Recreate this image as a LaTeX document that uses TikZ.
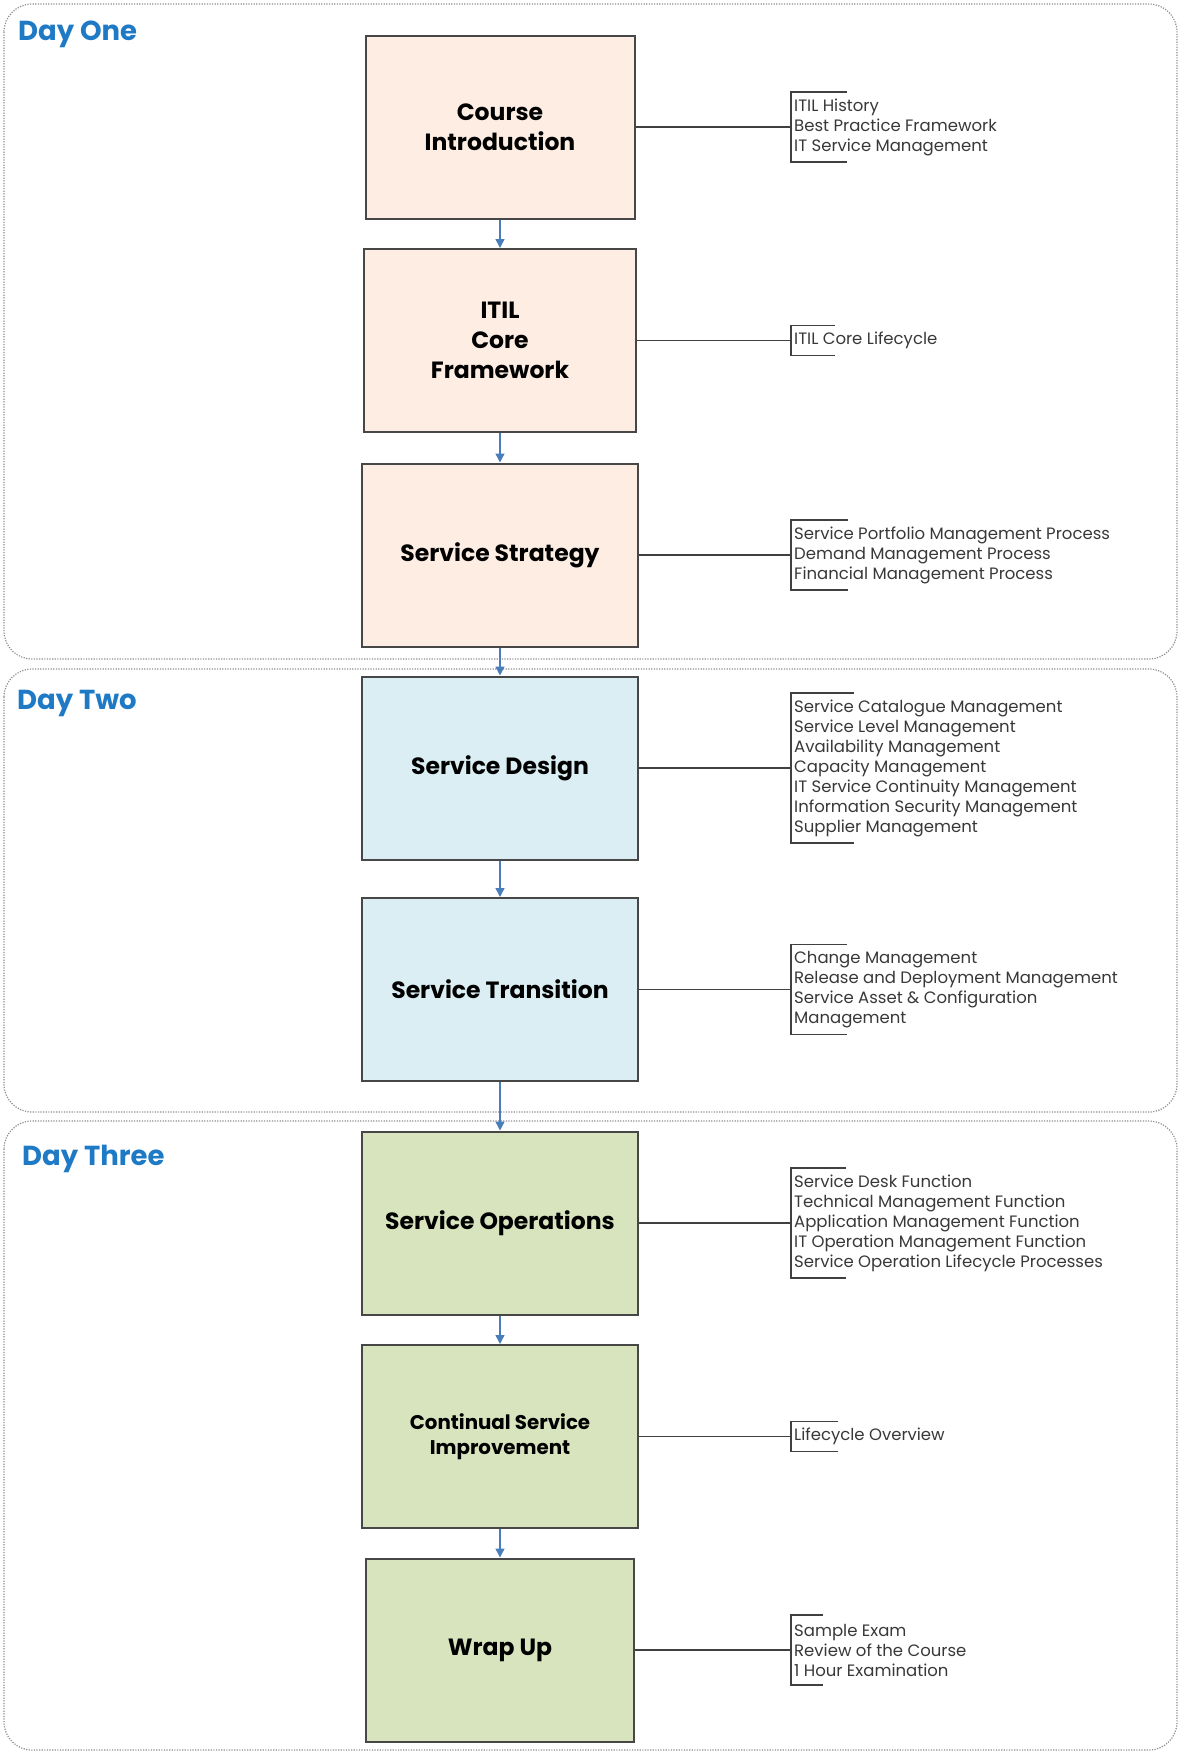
\documentclass[tikz,border=0pt]{standalone}
\usepackage{fontspec}
\setmainfont{Poppins}
\usetikzlibrary{calc}
\usetikzlibrary{arrows.meta}

\definecolor{dayblue}{HTML}{1F7AC6}
\definecolor{peach}{HTML}{FDEDE2}
\definecolor{paleblue}{HTML}{DAEEF3}
\definecolor{sage}{HTML}{D7E4BD}
\definecolor{flowblue}{HTML}{4A7EBB}

\begin{document}
\begin{tikzpicture}[x=1pt, y=-1pt,
  panel/.style={draw=black!45, line width=1.2pt, dash pattern=on 1.2pt off 1.4pt, rounded corners=28pt},
  day/.style={anchor=base west, inner sep=0pt, text=dayblue, font=\bfseries\fontsize{27.5}{32}\selectfont},
  stage/.style={draw=black!72, line width=2pt, minimum width=276pt, minimum height=183pt,
    align=center, text=black, font=\bfseries\fontsize{23.5}{30}\selectfont},
  list/.style={anchor=west, align=left, inner xsep=3pt, inner ysep=0pt, text=black!78,
    font=\fontsize{16.5}{20}\selectfont},
  link/.style={draw=black!75, line width=1.3pt},
  bracket/.style={draw=black!75, line width=1.5pt},
  flow/.style={draw=flowblue, line width=1.4pt, -{Triangle[length=9pt, width=9pt]}}
]
\def\railx{791}
\useasboundingbox (0,0) rectangle (1178,1754);

% the three days
\draw[panel] (4,4) rectangle (1177,659);
\draw[panel] (4,669) rectangle (1177,1112);
\draw[panel] (4,1121) rectangle (1177,1750);

\node[day] (dayOne) at (18,40) {Day One};
\node[day] (dayTwo) at (17,709) {Day Two};
\node[day] (dayThree) at (22,1165) {Day Three};

% course modules
\node[stage, fill=peach, minimum width=269pt] (intro) at (500,127) {Course\\Introduction};
\node[stage, fill=peach, minimum width=272pt] (core) at (500,340.5) {ITIL\\Core\\Framework};
\node[stage, fill=peach] (strategy) at (500,555) {Service Strategy};
\node[stage, fill=paleblue] (design) at (500,768) {Service Design};
\node[stage, fill=paleblue] (transition) at (500,989.5) {Service Transition};
\node[stage, fill=sage] (operations) at (500,1223) {Service Operations};
\node[stage, fill=sage, font=\bfseries\fontsize{19.8}{24.5}\selectfont] (improve) at (500,1436.5) {Continual Service\\Improvement};
\node[stage, fill=sage, minimum width=268pt] (wrap) at (500,1650) {Wrap Up};

\foreach \a/\b in {intro/core, core/strategy, strategy/design, design/transition,
    transition/operations, operations/improve, improve/wrap}
  \draw[flow] (\a) -- (\b);

% topic lists
\coordinate (rail) at (\railx,0);
\node[list] (intro-list) at (intro.east -| rail) {ITIL History\\Best Practice Framework\\IT Service Management};
\node[list] (core-list) at (core.east -| rail) {ITIL Core Lifecycle};
\node[list] (strategy-list) at (strategy.east -| rail) {Service Portfolio Management Process\\Demand Management Process\\Financial Management Process};
\node[list] (design-list) at (design.east -| rail) {Service Catalogue Management\\Service Level Management\\Availability Management\\Capacity Management\\IT Service Continuity Management\\Information Security Management\\Supplier Management};
\node[list] (transition-list) at (transition.east -| rail) {Change Management\\Release and Deployment Management\\Service Asset \& Configuration\\Management};
\node[list] (operations-list) at (operations.east -| rail) {Service Desk Function\\Technical Management Function\\Application Management Function\\IT Operation Management Function\\Service Operation Lifecycle Processes};
\node[list] (improve-list) at (improve.east -| rail) {Lifecycle Overview};
\node[list] (wrap-list) at (wrap.east -| rail) {Sample Exam\\Review of the Course\\1 Hour Examination};

\foreach \n/\lines/\tick in {intro/3/56, core/1/44, strategy/3/57, design/7/63,
    transition/4/56, operations/5/55, improve/1/47, wrap/3/32} {
  \pgfmathsetmacro{\half}{10*\lines+5}
  \draw[link] (\n) -- (\n-list.west);
  \draw[bracket] ($(\n-list.west)+(\tick,-\half)$) -- ++(-\tick,0) -- ++(0,{2*\half}) -- ++(\tick,0);
}
\end{tikzpicture}
\end{document}
